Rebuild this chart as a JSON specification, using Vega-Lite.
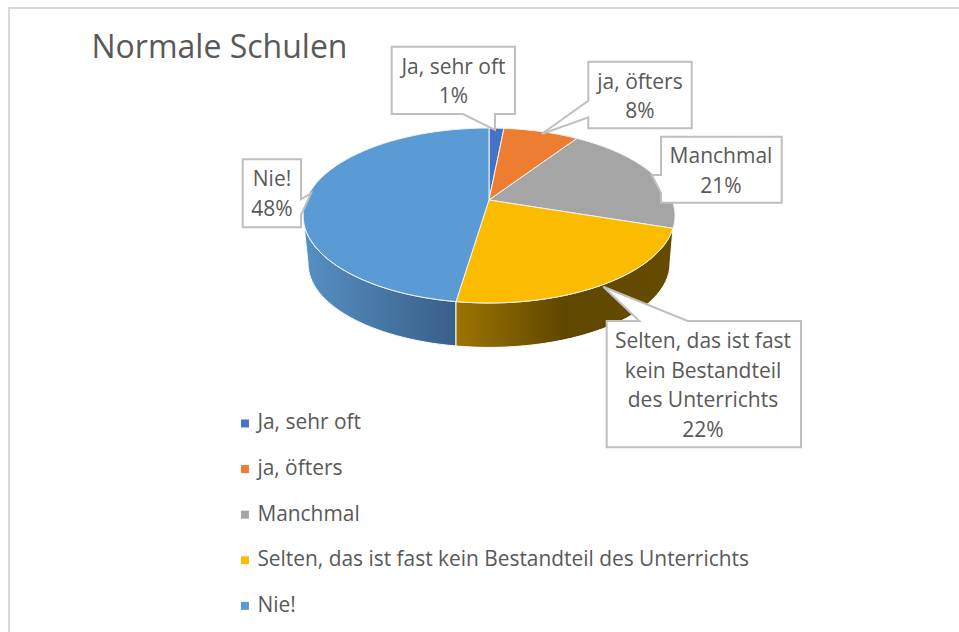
{"$schema":"https://vega.github.io/schema/vega-lite/v6.json","width":959,"height":632,"padding":0,"autosize":"none","background":"white","view":{"stroke":null},
"title":{"text":"Normale Schulen","anchor":"start","frame":"group","dx":91.5,"dy":69,"fontSize":32,"font":"Open Sans","fontWeight":"normal","color":"#595959"},
"config":{"text":{"font":"Open Sans"}},
"data":{"values":[
{"antwort":"Ja, sehr oft","anteil":1,"beschriftung":"Ja, sehr oft\n1%"},
{"antwort":"ja, öfters","anteil":8,"beschriftung":"ja, öfters\n8%"},
{"antwort":"Manchmal","anteil":21,"beschriftung":"Manchmal\n21%"},
{"antwort":"Selten, das ist fast kein Bestandteil des Unterrichts","anteil":22,"beschriftung":"Selten, das ist fast\nkein Bestandteil\ndes Unterrichts\n22%"},
{"antwort":"Nie!","anteil":48,"beschriftung":"Nie!\n48%"}]},
"resolve":{"scale":{"x":"independent","y":"independent","shape":"independent"}},
"layer":[
{"data":{"values":[{}]},"mark":{"type":"rule","color":"#d9d9d9","strokeWidth":2},"encoding":{"x":{"datum":9,"type":"quantitative","scale":{"domain":[0,959],"range":[0,959]},"axis":null},"y":{"datum":7,"type":"quantitative","scale":{"domain":[0,632],"range":[0,632]},"axis":null},"y2":{"datum":632}}},
{"data":{"values":[{}]},"mark":{"type":"rule","color":"#d9d9d9","strokeWidth":2},"encoding":{"x":{"datum":8,"type":"quantitative","scale":{"domain":[0,959],"range":[0,959]},"axis":null},"x2":{"datum":959},"y":{"datum":8,"type":"quantitative","scale":{"domain":[0,632],"range":[0,632]},"axis":null}}},
{"transform":[{"filter":"datum.anteil==48"}],"mark":{"type":"point","filled":true,"opacity":1,"size":4,"stroke":"white","strokeWidth":1,"shape":"M-186 15.5A186 87.5 0 0 0 -33 101.6L-33 146A181 84 0 0 1 -181 63Z","fill":{"gradient":"linear","x1":0,"x2":1,"y1":0,"y2":0,"stops":[{"offset":0,"color":"#5690c4"},{"offset":1,"color":"#395f87"}]}},"encoding":{"x":{"datum":489,"type":"quantitative","scale":{"domain":[0,959],"range":[0,959]},"axis":null},"y":{"datum":200,"type":"quantitative","scale":{"domain":[0,632],"range":[0,632]},"axis":null}}},
{"transform":[{"filter":"datum.anteil==22"}],"mark":{"type":"point","filled":true,"opacity":1,"size":4,"stroke":"white","strokeWidth":1,"shape":"M-33 101.6A186 87.5 0 0 0 184 28.3L181 63A181 84 0 0 1 -33 146Z","fill":{"gradient":"linear","x1":0,"x2":1,"y1":0,"y2":0,"stops":[{"offset":0,"color":"#9c7400"},{"offset":0.5,"color":"#5f4700"},{"offset":1,"color":"#664c00"}]}},"encoding":{"x":{"datum":489,"type":"quantitative","scale":{"domain":[0,959],"range":[0,959]},"axis":null},"y":{"datum":200,"type":"quantitative","scale":{"domain":[0,632],"range":[0,632]},"axis":null}}},
{"mark":{"type":"point","filled":true,"opacity":1,"size":4,"stroke":"#f2f2f2","strokeWidth":1},"encoding":{
"x":{"datum":489,"type":"quantitative","scale":{"domain":[0,959],"range":[0,959]},"axis":null},
"y":{"datum":200,"type":"quantitative","scale":{"domain":[0,632],"range":[0,632]},"axis":null},
"shape":{"field":"antwort","type":"nominal","legend":null,"scale":{"domain":["Ja, sehr oft","ja, öfters","Manchmal","Selten, das ist fast kein Bestandteil des Unterrichts","Nie!"],"range":["M0 0L0 -72A186 87.5 0 0 1 15 -71.7Z","M0 0L15 -71.7A186 87.5 0 0 1 88 -61.6Z","M0 0L88 -61.6A186 87.5 0 0 1 184 28.3Z","M0 0L184 28.3A186 87.5 0 0 1 -33 101.6Z","M0 0L-33 101.6A186 87.5 0 0 1 0 -72Z"]}},
"color":{"field":"antwort","type":"nominal","scale":{"domain":["Ja, sehr oft","ja, öfters","Manchmal","Selten, das ist fast kein Bestandteil des Unterrichts","Nie!"],"range":["#4472c4","#ed7d31","#a5a5a5","#fbbc00","#5b9bd5"]},
"legend":{"orient":"none","legendX":234.5,"legendY":413,"title":null,"symbolType":"square","symbolSize":64,"symbolStrokeWidth":0,"labelFont":"Open Sans","labelFontSize":20.9,"labelColor":"#595959","labelOffset":2,"rowPadding":23.6,"labelLimit":600}}}},
{"mark":{"type":"point","filled":true,"opacity":1,"size":4,"fill":"white","stroke":"#bfbfbf","strokeWidth":2},"encoding":{
"x":{"datum":489,"type":"quantitative","scale":{"domain":[0,959],"range":[0,959]},"axis":null},
"y":{"datum":200,"type":"quantitative","scale":{"domain":[0,632],"range":[0,632]},"axis":null},
"shape":{"field":"antwort","type":"nominal","legend":null,"scale":{"domain":["Ja, sehr oft","ja, öfters","Manchmal","Selten, das ist fast kein Bestandteil des Unterrichts","Nie!"],"range":["M-97.3 -153.3H26V-86H6L6 -70L-26 -86H-97.3Z","M99.3 -138.3H202.7V-71.7H99.3V-82.7L52.7 -66L99.3 -99.3Z","M172 -63.3H292.7V2.7H172V-7L162.7 -25L172 -25Z","M117.7 121H150.3L114.3 86.7L198.7 121H312V247.3H117.7Z","M-246.3 -40.7H-188V-0.7L-178 -6.7L-188 15V27.3H-246.3Z"]}}}},
{"mark":{"type":"text","font":"Open Sans","fontSize":21,"color":"#595959","align":"center","baseline":"middle","lineBreak":"\n","lineHeight":29.5},"encoding":{
"text":{"field":"beschriftung"},
"x":{"field":"anteil","type":"quantitative","axis":null,"scale":{"zero":false,"nice":false,"domain":[1,8,21,22,48],"range":[453.5,640,721,703,272]}},
"y":{"field":"anteil","type":"quantitative","axis":null,"scale":{"zero":false,"nice":false,"domain":[1,8,21,22,48],"range":[67.5,82.5,157,342,180]}}}}
]}
